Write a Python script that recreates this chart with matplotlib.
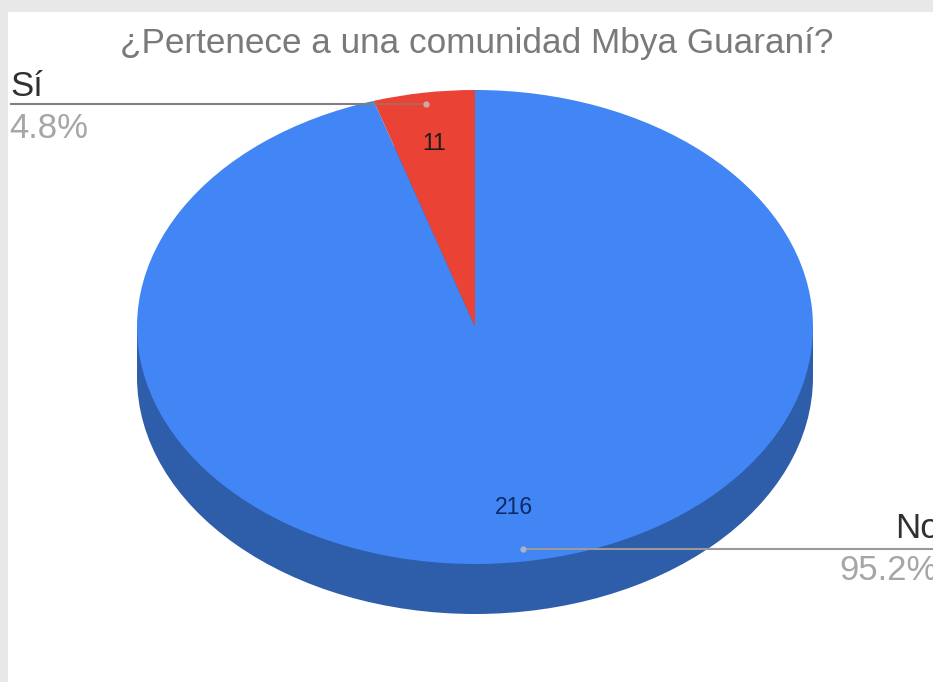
'''Pie chart with a fake 3D edge, as exported from a spreadsheet.'''

import matplotlib
matplotlib.use('Agg')
import matplotlib.pyplot as plt
from matplotlib.patches import Ellipse, Rectangle

plt.rcParams['font.family'] = ['Liberation Sans', 'DejaVu Sans']

title = '¿Pertenece a una comunidad Mbya Guaraní?'
categories = ['Sí', 'No']
counts = [11, 216]
percents = ['4.8%', '95.2%']
colors = ['#ea4335', '#4285f4']
side_color = '#2e5daa'

W, H = 933, 682
CX, CY, RX, RY = 475, 327, 338, 237
DEPTH = 50

fig = plt.figure(figsize=(W / 100, H / 100), dpi=100, facecolor='#e8e8e8')

# white sheet and the 3D edge, in pixel coordinates
back = fig.add_axes([0, 0, 1, 1], zorder=0)
back.set_xlim(0, W)
back.set_ylim(H, 0)
back.axis('off')
back.add_patch(Rectangle((8, 12), W - 8, H - 12, color='white', lw=0))
back.add_patch(Ellipse((CX, CY + DEPTH), 2 * RX, 2 * RY, color=side_color, lw=0))
back.add_patch(Rectangle((CX - RX, CY), 2 * RX, DEPTH, color=side_color, lw=0))

# the pie itself, squashed by giving it a non square axes
pie_ax = fig.add_axes([(CX - RX) / W, 1 - (CY + RY) / H, 2 * RX / W, 2 * RY / H],
                      zorder=1)
pie_ax.pie(counts, colors=colors, startangle=90, radius=1,
           wedgeprops={'linewidth': 0})
pie_ax.set_aspect('auto')
pie_ax.set_xlim(-1, 1)
pie_ax.set_ylim(-1, 1)
pie_ax.axis('off')

# labels and leader lines
top = fig.add_axes([0, 0, 1, 1], zorder=2)
top.set_xlim(0, W)
top.set_ylim(H, 0)
top.axis('off')
top.patch.set_alpha(0)

top.text(477, 43, title, fontsize=25.3, color='#7a7a7a', ha='center', va='center')

top.plot([10, 375], [104, 104], color='#808080', lw=1.5, solid_capstyle='butt')
top.plot([375, 426], [104, 104], color='#b5645a', lw=1.5, solid_capstyle='butt')
top.plot([426], [104], 'o', color='#d0a8a2', ms=3.5)
top.text(10, 86, categories[0], fontsize=25, color='#303030', va='center')
top.text(9, 128, percents[0], fontsize=25, color='#a6a6a6', va='center')
top.text(434, 144, str(counts[0]), fontsize=16.5, color='#1a1a1a', ha='center', va='center')

top.plot([523, W], [549, 549], color='#9a9a9a', lw=1.5, solid_capstyle='butt')
top.plot([523], [549], 'o', color='#a9b4c6', ms=3.5)
top.text(895, 528, categories[1], fontsize=25, color='#303030', va='center', clip_on=True)
top.text(839, 571, percents[1], fontsize=25, color='#a6a6a6', va='center', clip_on=True)
top.text(514, 508, str(counts[1]), fontsize=16.5, color='#0d2a66', ha='center', va='center')

fig.savefig('out.png', dpi=100)
